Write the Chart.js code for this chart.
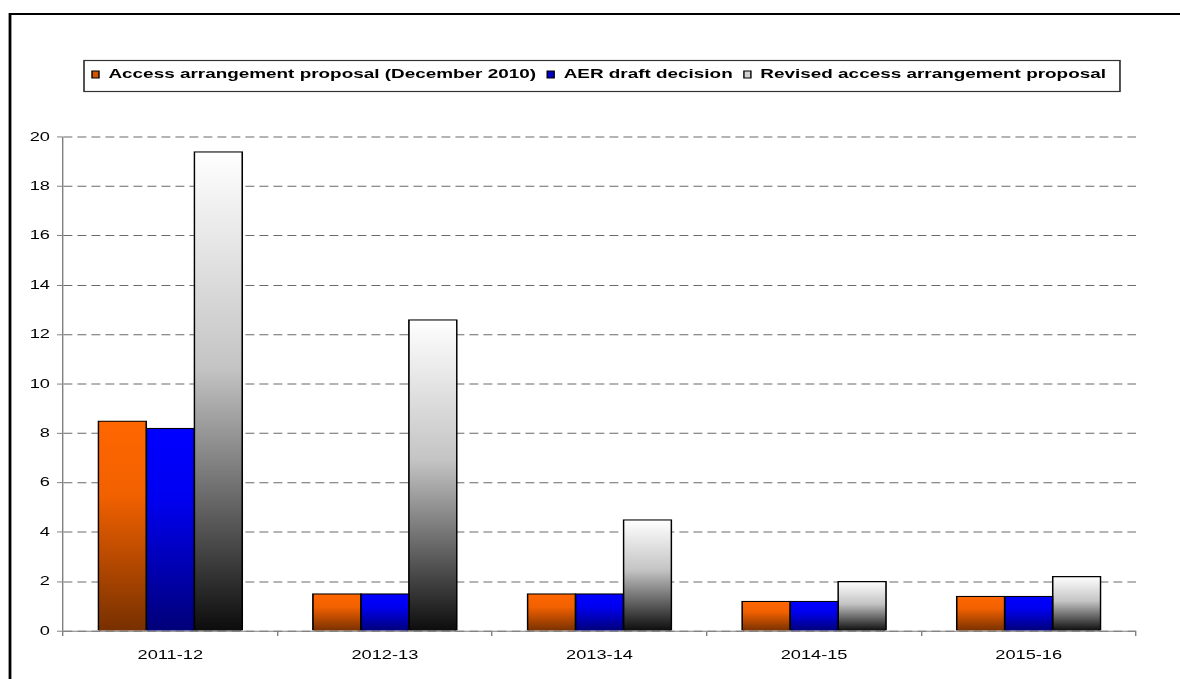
<!DOCTYPE html>
<html>
<head>
<meta charset="utf-8">
<title>Access arrangement proposals</title>
<script src="https://cdn.jsdelivr.net/npm/chart.js@4.4.1/dist/chart.umd.min.js"></script>
<style>
  html, body { margin: 0; padding: 0; background: #fff; overflow: hidden; }
  #wrap { width: 1180px; height: 679px; overflow: hidden; }
  /* buffer is shown 1:1; the widen plugin stretches the drawing sideways */
  #chart { display: block; width: 1180px !important; height: 950px !important; }
</style>
</head>
<body>
<div id="wrap"><canvas id="chart" width="843" height="679"></canvas></div>
<script>
const years = ['2011-12', '2012-13', '2013-14', '2014-15', '2015-16'];
const proposalDec2010 = [8.5, 1.5, 1.5, 1.2, 1.4];
const draftDecision = [8.2, 1.5, 1.5, 1.2, 1.4];
const revisedProposal = [19.4, 12.6, 4.5, 2.0, 2.2];
const seriesNames = [
  'Access arrangement proposal (December 2010)',
  'AER draft decision',
  'Revised access arrangement proposal'
];
const yTicks = [0, 2, 4, 6, 8, 10, 12, 14, 16, 18, 20];

const SX = 1.4;          // horizontal stretch of the whole drawing
const FONT = '"Liberation Sans", Arial, sans-serif';
const LEG_PAD = 8;

// vertical gradients, one per bar, from its top down to the base line
const orangeStops = [[0, '#ff6600'], [0.35, '#f26100'], [1, '#773000']];
const blueStops = [[0, '#0000ff'], [0.35, '#0000f0'], [1, '#000078']];
const greyStops = [[0, '#ffffff'], [0.45, '#c4c4c4'], [1, '#0c0c0c']];
const legendFills = ['#d45500', '#0000c8', '#d2d2d2'];

function barFill(stops) {
  return (c) => {
    const chart = c.chart;
    if (c.type !== 'data' || !chart.chartArea) return stops[0][1];
    const y = chart.scales.y;
    const top = y.getPixelForValue(c.raw);
    const base = y.getPixelForValue(0);
    const g = chart.ctx.createLinearGradient(0, top, 0, base);
    stops.forEach(([o, col]) => g.addColorStop(o, col));
    return g;
  };
}

const widen = {
  id: 'widen',
  afterLayout(chart) {
    // park the legend row inside its framed box
    const lg = chart.legend;
    const w = lg.width, h = lg.height;
    lg.left = 92 / SX - LEG_PAD;
    lg.right = lg.left + w;
    lg.top = 74.5 - 6.75 - LEG_PAD;
    lg.bottom = lg.top + h;
  },
  beforeDraw(chart) {
    const ctx = chart.ctx;
    ctx.setTransform(SX, 0, 0, 1, 0, 0);
    ctx.save();
    ctx.strokeStyle = '#000';
    ctx.lineWidth = 2;
    ctx.strokeRect(10 / SX, 14, chart.width, chart.height);
    ctx.restore();
  },
  afterDraw(chart) {
    const ctx = chart.ctx;
    const lg = chart.legend;
    const x0 = lg.left + LEG_PAD;
    const x1 = x0 + lg.lineWidths[0] - LEG_PAD;
    const mid = lg.top + LEG_PAD + 6.75;
    ctx.save();
    ctx.strokeStyle = '#333';
    ctx.lineWidth = 1.2;
    ctx.strokeRect(x0 - 8 / SX, mid - 14, x1 - x0 + 22 / SX, 31);
    ctx.restore();
  }
};

const data = {
  labels: years,
  datasets: [
    { label: seriesNames[0], data: proposalDec2010, backgroundColor: barFill(orangeStops) },
    { label: seriesNames[1], data: draftDecision, backgroundColor: barFill(blueStops) },
    { label: seriesNames[2], data: revisedProposal, backgroundColor: barFill(greyStops) }
  ].map(ds => Object.assign(ds, {
    borderColor: '#000',
    borderWidth: 1.2,
    inflateAmount: 0.6,
    categoryPercentage: 0.671,
    barPercentage: 1.0
  }))
};

const config = {
  type: 'bar',
  data,
  options: {
    responsive: false,
    animation: false,
    devicePixelRatio: SX,
    layout: { padding: { top: 105.5, left: 0, right: 31.6, bottom: 3.4 } },
    plugins: {
      tooltip: { enabled: false },
      legend: {
        position: 'top',
        align: 'start',
        labels: {
          boxWidth: 5,
          boxHeight: 7,
          padding: LEG_PAD,
          color: '#000',
          font: { family: FONT, size: 13.5, weight: 'bold' },
          generateLabels: (chart) => chart.data.datasets.map((ds, i) => ({
            text: ds.label,
            fillStyle: legendFills[i],
            strokeStyle: '#000',
            lineWidth: 1,
            hidden: false,
            datasetIndex: i
          }))
        }
      }
    },
    scales: {
      x: {
        grid: { drawOnChartArea: false, tickLength: 5, color: '#808080' },
        border: { color: '#808080', width: 1 },
        ticks: { color: '#000', font: { family: FONT, size: 13 }, padding: 12 }
      },
      y: {
        min: 0,
        max: 20,
        afterFit: (scale) => { scale.width = 45; },
        afterBuildTicks: (scale) => { scale.ticks = yTicks.map(v => ({ value: v })); },
        grid: { color: '#6a6a6a', lineWidth: 1, tickLength: 4.3, tickColor: '#808080' },
        border: { color: '#808080', width: 1, dash: [6.4, 3.6] },
        ticks: { color: '#000', font: { family: FONT, size: 13 }, padding: 5 }
      }
    }
  },
  plugins: [widen]
};

const myChart = new Chart(document.getElementById('chart'), config);
</script>
</body>
</html>
